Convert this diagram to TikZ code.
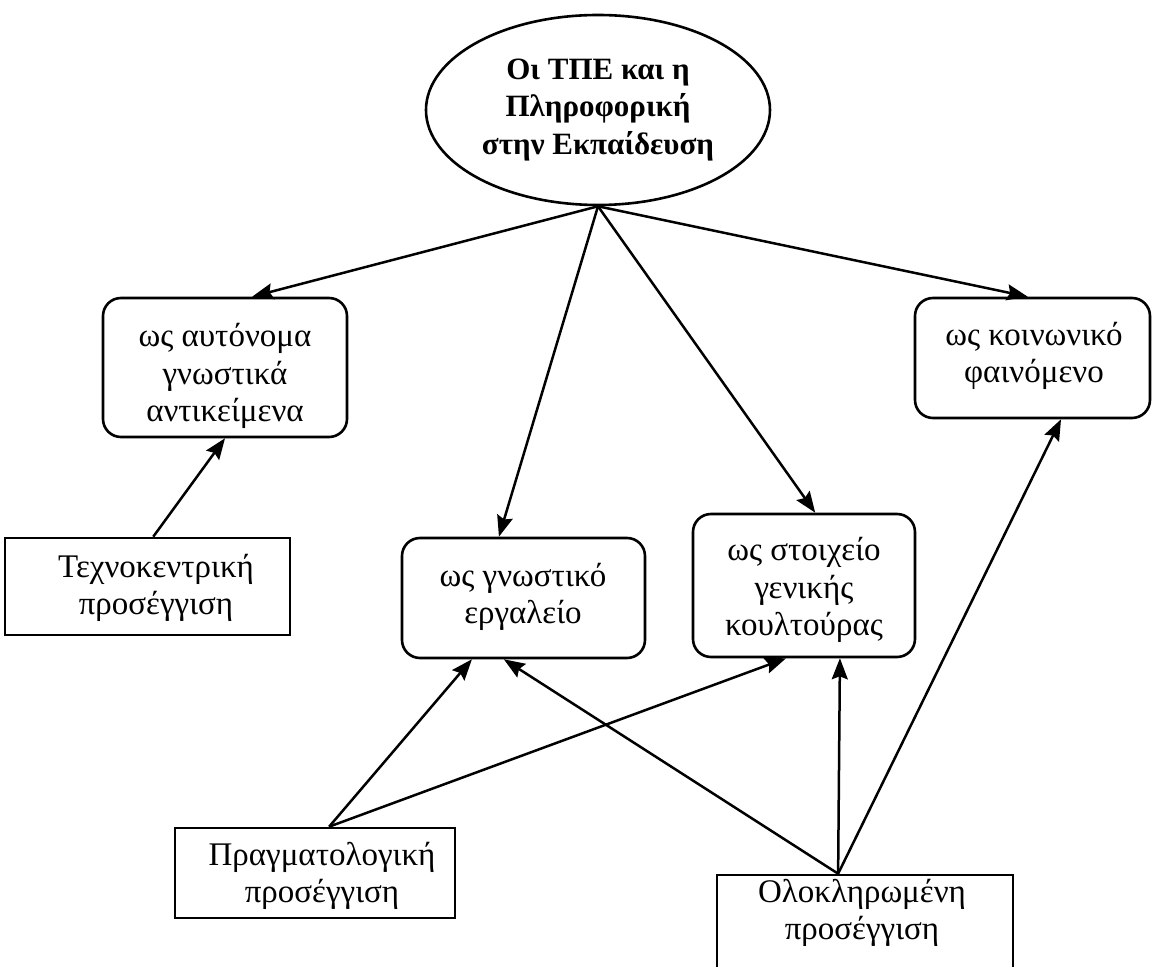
\documentclass[tikz,border=0pt]{standalone}
\usepackage{fontspec}
\setmainfont{Liberation Serif}
\usetikzlibrary{arrows.meta,calc,shapes.geometric,fit}
\begin{document}
\begin{tikzpicture}[x=0.5pt,y=-0.5pt,
  line width=1.3pt,
  conn/.style={-{Stealth[length=10.5pt,width=8pt,inset=1.5pt]}, line width=1.25pt},
  rbox/.style={draw, rounded corners=9pt, inner sep=0pt},
  sbox/.style={draw, inner sep=0pt},
  lbl/.style={align=center, inner sep=0pt, font=\fontsize{16.5}{18.8}\selectfont},
  hub/.style={draw, ellipse, inner sep=0pt, minimum width=172pt, minimum height=95pt,
    align=center, font=\bfseries\fontsize{15.5}{18.7}\selectfont},
]
\useasboundingbox (0,0) rectangle (1153,967);

% central topic
\node[hub] (top) at (598,110) {Οι ΤΠΕ και η\\Πληροφορική\\στην Εκπαίδευση};

% roles (rounded boxes)
\node[rbox, fit={(103,298) (347,437)}] (b1) {};
\node[lbl] (t1) at (225,376) {ως αυτόνομα\\γνωστικά\\αντικείμενα};

\node[rbox, fit={(915,298) (1150,418)}] (b2) {};
\node[lbl] (t2) at (1034,356) {ως κοινωνικό\\φαινόμενο};

\node[rbox, fit={(402,538) (645,658)}] (b3) {};
\node[lbl] (t3) at (523,597) {ως γνωστικό\\εργαλείο};

\node[rbox, fit={(693,514) (915,657)}] (b4) {};
\node[lbl] (t4) at (804,590) {ως στοιχείο\\γενικής\\κουλτούρας};

% approaches (square boxes)
\node[sbox, fit={(5,538) (290,635)}] (b5) {};
\node[lbl] (t5) at (156,588) {Τεχνοκεντρική\\προσέγγιση};

\node[sbox, fit={(175,828) (455,918)}] (b6) {};
\node[lbl] (t6) at (322,876) {Πραγματολογική\\προσέγγιση};

\node[sbox, fit={(717,875) (1013,990)}] (b7) {};
\node[lbl] (t7) at (862,913) {Ολοκληρωμένη\\προσέγγιση};

% connectors from the central topic
\draw[conn] (top.south) -- ($(b1.north west)!0.61!(b1.north east)$);
\draw[conn] (top.south) -- ($(b3.north west)!0.40!(b3.north east)$);
\draw[conn] (top.south) -- ($(b4.north west)!0.55!(b4.north east)$);
\draw[conn] (top.south) -- ($(b2.north west)!0.48!(b2.north east)$);

% connectors from the approaches
\draw[conn] ($(b5.north west)!0.52!(b5.north east)$) -- (b1.south);
\coordinate (p6) at ($(b6.north west)!0.55!(b6.north east)$);
\draw[conn] (p6) -- ($(b3.south west)!0.29!(b3.south east)$);
\draw[conn] (p6) -- ($(b4.south west)!0.42!(b4.south east)$);
\coordinate (p7) at ($(b7.north west)!0.41!(b7.north east)$);
\draw[conn] (p7) -- ($(b3.south west)!0.42!(b3.south east)$);
\draw[conn] (p7) -- ($(b4.south west)!0.66!(b4.south east)$);
\draw[conn] (p7) -- ($(b2.south west)!0.62!(b2.south east)$);
\end{tikzpicture}
\end{document}
